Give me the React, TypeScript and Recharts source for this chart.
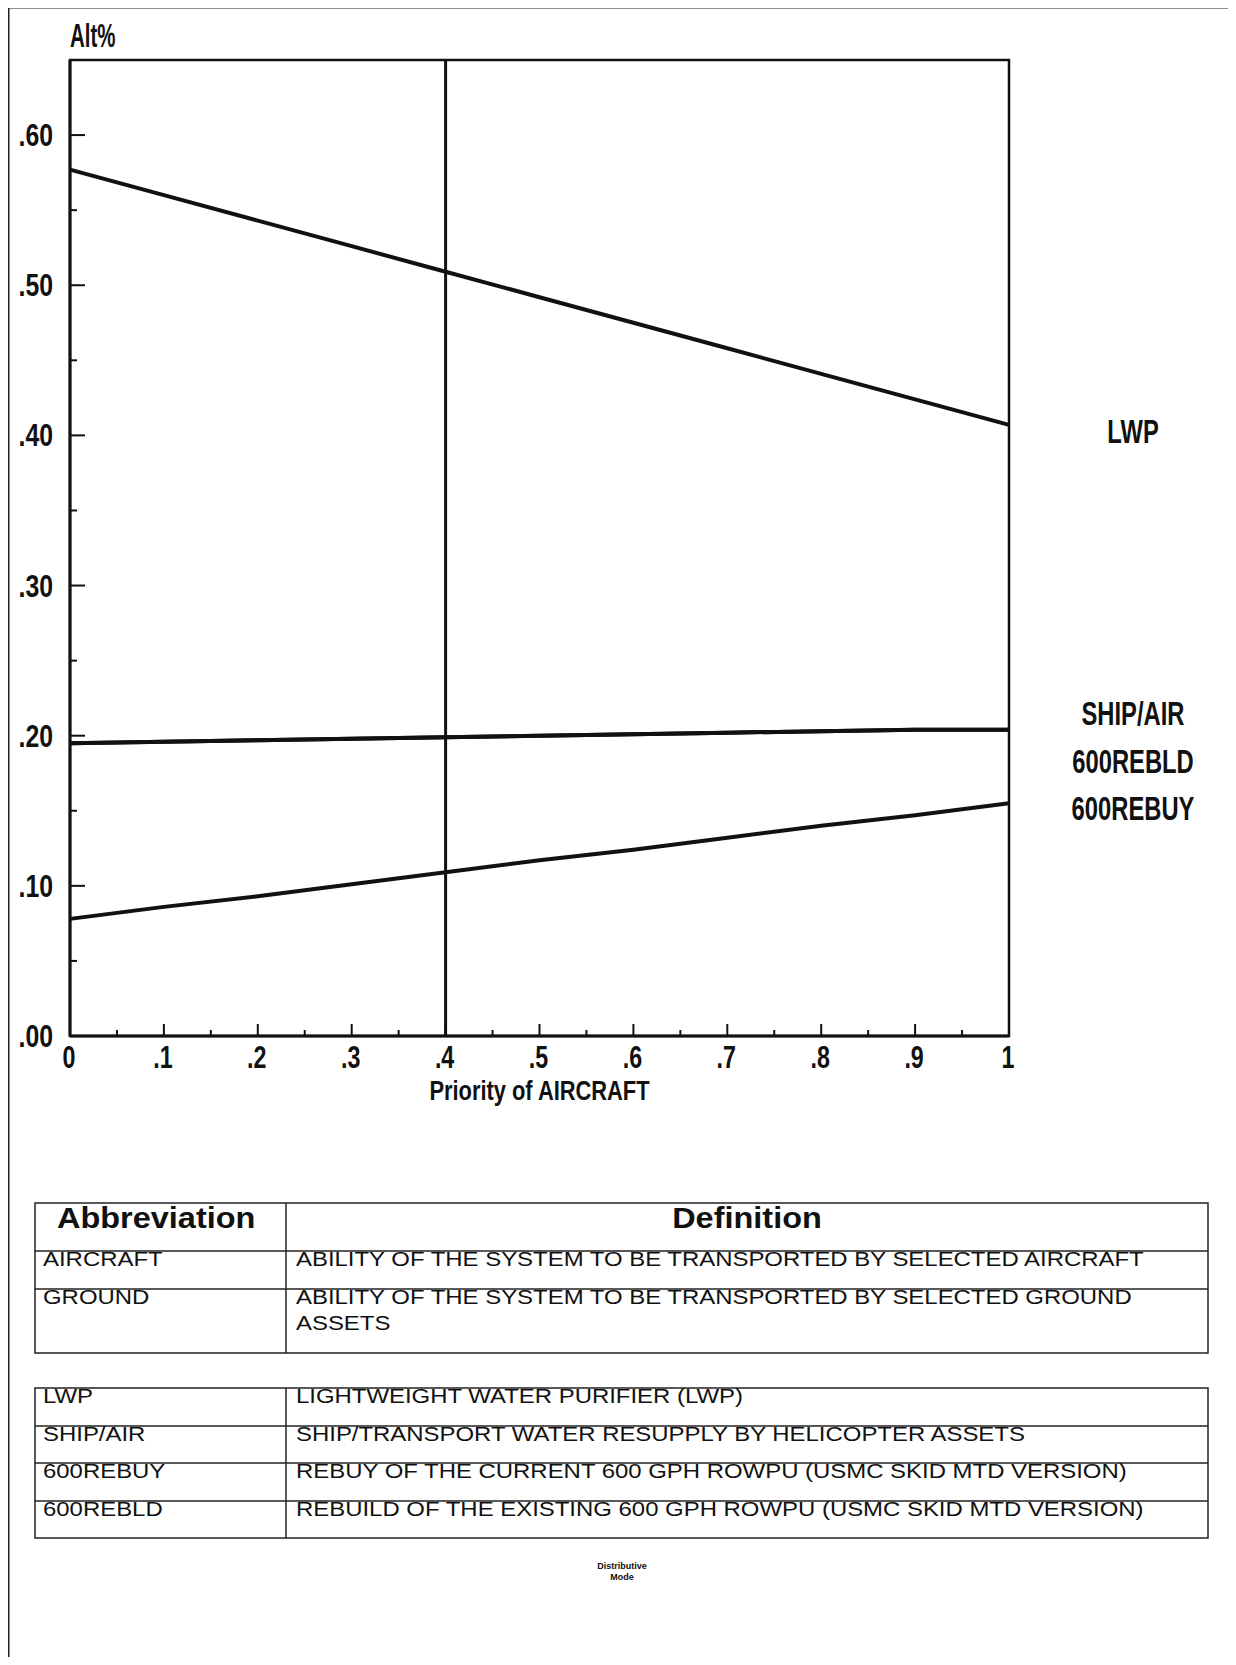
import React from 'react';
import { LineChart, Line, XAxis, YAxis, ReferenceLine, ReferenceArea } from 'recharts';

// ---------- chart data ----------
const xValues = [0, 0.1, 0.2, 0.3, 0.4, 0.5, 0.6, 0.7, 0.8, 0.9, 1];
const lwpValues = [0.577, 0.56, 0.543, 0.526, 0.509, 0.492, 0.475, 0.458, 0.441, 0.424, 0.407];
const shipAirValues = [0.195, 0.196, 0.197, 0.198, 0.199, 0.2, 0.201, 0.202, 0.203, 0.204, 0.204];
const rebldValues = [0.195, 0.196, 0.197, 0.198, 0.199, 0.2, 0.201, 0.202, 0.203, 0.204, 0.204];
const rebuyValues = [0.078, 0.086, 0.093, 0.101, 0.109, 0.117, 0.124, 0.132, 0.14, 0.147, 0.155];

const xMajorTicks = [0, 0.1, 0.2, 0.3, 0.4, 0.5, 0.6, 0.7, 0.8, 0.9, 1];
const xTickLabels = ['0', '.1', '.2', '.3', '.4', '.5', '.6', '.7', '.8', '.9', '1'];
const xMinorTicks = [0.05, 0.15, 0.25, 0.35, 0.45, 0.55, 0.65, 0.75, 0.85, 0.95];
const yMajorTicks = [0, 0.1, 0.2, 0.3, 0.4, 0.5, 0.6];
const yTickLabels = ['.00', '.10', '.20', '.30', '.40', '.50', '.60'];
const yMinorTicks = [0.05, 0.15, 0.25, 0.35, 0.45, 0.55];
const selectedPriority = 0.4;

const seriesNames = ['LWP', 'SHIP/AIR', '600REBLD', '600REBUY'];

// ---------- table data ----------
const table1Abbrev = ['AIRCRAFT', 'GROUND'];
const table1Defs = [
  ['ABILITY OF THE SYSTEM TO BE TRANSPORTED BY SELECTED AIRCRAFT'],
  ['ABILITY OF THE SYSTEM TO BE TRANSPORTED BY SELECTED GROUND', 'ASSETS'],
];
const table2Abbrev = ['LWP', 'SHIP/AIR', '600REBUY', '600REBLD'];
const table2Defs = [
  'LIGHTWEIGHT WATER PURIFIER (LWP)',
  'SHIP/TRANSPORT WATER RESUPPLY BY HELICOPTER ASSETS',
  'REBUY OF THE CURRENT 600 GPH ROWPU (USMC SKID MTD VERSION)',
  'REBUILD OF THE EXISTING 600 GPH ROWPU (USMC SKID MTD VERSION)',
];

const data = xValues.map((x, i) => ({
  x,
  lwp: lwpValues[i],
  shipAir: shipAirValues[i],
  rebld: rebldValues[i],
  rebuy: rebuyValues[i],
}));

const FONT = "'Liberation Sans', Arial, sans-serif";
const INK = '#111';

const near = (a: number, b: number) => Math.abs(a - b) < 1e-6;

function SText(props: any) {
  const { x, y, sx = 1, size, weight = 'normal', anchor = 'start', children, fill = INK } = props;
  return (
    <text
      transform={`translate(${x},${y}) scale(${sx},1)`}
      textAnchor={anchor}
      fontSize={size}
      fontWeight={weight}
      fontFamily={FONT}
      fill={fill}
    >
      {children}
    </text>
  );
}

function XTick(props: any) {
  const { x, y, payload } = props;
  const v = payload.value;
  const mi = xMajorTicks.findIndex((t) => near(t, v));
  const major = mi >= 0;
  return (
    <g>
      <line x1={x} y1={y} x2={x} y2={y - (major ? 12 : 6)} stroke={INK} strokeWidth={2} />
      {major && (
        <SText x={x - 1} y={y + 32} sx={0.75} size={31} weight="bold" anchor="middle">
          {xTickLabels[mi]}
        </SText>
      )}
    </g>
  );
}

function YTick(props: any) {
  const { x, y, payload } = props;
  const v = payload.value;
  const mi = yMajorTicks.findIndex((t) => near(t, v));
  const major = mi >= 0;
  return (
    <g>
      <line x1={x} y1={y} x2={x + (major ? 15 : 7)} y2={y} stroke={INK} strokeWidth={2} />
      {major && (
        <SText x={x - 17} y={y + 11} sx={0.8} size={31} weight="bold" anchor="end">
          {yTickLabels[mi]}
        </SText>
      )}
    </g>
  );
}

function XTitle(props: any) {
  const vb = props.viewBox || { x: 70, y: 1036, width: 939, height: 84 };
  return (
    <SText x={vb.x + vb.width / 2} y={vb.y + 64} sx={0.81} size={27} weight="bold" anchor="middle">
      Priority of AIRCRAFT
    </SText>
  );
}

function YTitle(props: any) {
  const vb = props.viewBox || { x: 0, y: 60, width: 70, height: 976 };
  return (
    <SText x={vb.x + vb.width} y={vb.y - 13} sx={0.62} size={33} weight="bold" anchor="start">
      Alt%
    </SText>
  );
}

const makeEndDot = (name: string, dy: number) => (props: any) => {
  const { cx, cy, index } = props;
  if (index !== xValues.length - 1) return <g key={`d-${name}-${index}`} />;
  return (
    <g key={`d-${name}-${index}`}>
      <SText x={cx + 124} y={cy + dy} sx={0.72} size={33} weight="bold" anchor="middle">
        {name}
      </SText>
    </g>
  );
};

function Chart() {
  const allX = [...xMajorTicks, ...xMinorTicks].sort((a, b) => a - b);
  const allY = [...yMajorTicks, ...yMinorTicks].sort((a, b) => a - b);
  return (
    <LineChart width={1236} height={1120} data={data} margin={{ top: 60, right: 227, bottom: 0, left: 0 }}>
      <XAxis
        type="number"
        dataKey="x"
        domain={[0, 1]}
        ticks={allX}
        interval={0}
        tick={<XTick />}
        tickLine={false}
        tickSize={0}
        tickMargin={0}
        height={84}
        axisLine={{ stroke: INK, strokeWidth: 3 }}
        label={<XTitle />}
      />
      <YAxis
        type="number"
        domain={[0, 0.65]}
        ticks={allY}
        interval={0}
        tick={<YTick />}
        tickLine={false}
        tickSize={0}
        tickMargin={0}
        width={70}
        axisLine={{ stroke: INK, strokeWidth: 3 }}
        label={<YTitle />}
      />
      <ReferenceArea
        x1={0}
        x2={1}
        y1={0}
        y2={0.65}
        fill="none"
        fillOpacity={0}
        stroke={INK}
        strokeWidth={2.5}
        ifOverflow="visible"
      />
      <ReferenceLine x={selectedPriority} stroke={INK} strokeWidth={3} />
      <Line type="linear" dataKey="lwp" name={seriesNames[0]} stroke={INK} strokeWidth={4} dot={makeEndDot(seriesNames[0], 18)} activeDot={false} isAnimationActive={false} />
      <Line type="linear" dataKey="rebld" name={seriesNames[2]} stroke={INK} strokeWidth={4} dot={makeEndDot(seriesNames[2], 43)} activeDot={false} isAnimationActive={false} />
      <Line type="linear" dataKey="shipAir" name={seriesNames[1]} stroke={INK} strokeWidth={4} dot={makeEndDot(seriesNames[1], -5)} activeDot={false} isAnimationActive={false} />
      <Line type="linear" dataKey="rebuy" name={seriesNames[3]} stroke={INK} strokeWidth={4} dot={makeEndDot(seriesNames[3], 17)} activeDot={false} isAnimationActive={false} />
    </LineChart>
  );
}

function Tables() {
  const L = 35, R = 1208, D = 286;
  const t1Top = 1203, t1Head = 1251, t1Row = 1289, t1Bot = 1353;
  const t2Rows = [1388, 1426, 1463, 1501, 1538];
  const lw = 1.5;
  const bodySize = 21, bodySx = 1.14;
  return (
    <svg width={1236} height={1665} style={{ position: 'absolute', left: 0, top: 0 }}>
      {/* page frame */}
      <line x1={8} y1={7} x2={8} y2={1665} stroke="#222" strokeWidth={3} />
      <line x1={7} y1={7} x2={1232} y2={7} stroke="#222" strokeWidth={3} />
      <line x1={1231} y1={7} x2={1231} y2={1665} stroke="#222" strokeWidth={3} />
      {/* table 1 */}
      <rect x={L} y={t1Top} width={R - L} height={t1Bot - t1Top} fill="none" stroke="#222" strokeWidth={lw} />
      <line x1={D} y1={t1Top} x2={D} y2={t1Bot} stroke="#222" strokeWidth={lw} />
      <line x1={L} y1={t1Head} x2={R} y2={t1Head} stroke="#222" strokeWidth={lw} />
      <line x1={L} y1={t1Row} x2={R} y2={t1Row} stroke="#222" strokeWidth={lw} />
      <SText x={57} y={1228} sx={1.12} size={29} weight="bold">Abbreviation</SText>
      <SText x={(D + R) / 2} y={1228} sx={1.12} size={29} weight="bold" anchor="middle">Definition</SText>
      {table1Abbrev.map((a, i) => {
        const top = i === 0 ? t1Head : t1Row;
        return (
          <g key={a}>
            <SText x={43} y={top + 15} sx={bodySx} size={bodySize}>{a}</SText>
            {table1Defs[i].map((line, j) => (
              <SText key={j} x={296} y={top + 15 + j * 26} sx={bodySx} size={bodySize}>{line}</SText>
            ))}
          </g>
        );
      })}
      {/* table 2 */}
      <rect x={L} y={t2Rows[0]} width={R - L} height={t2Rows[4] - t2Rows[0]} fill="none" stroke="#222" strokeWidth={lw} />
      <line x1={D} y1={t2Rows[0]} x2={D} y2={t2Rows[4]} stroke="#222" strokeWidth={lw} />
      {t2Rows.slice(1, 4).map((y) => (
        <line key={y} x1={L} y1={y} x2={R} y2={y} stroke="#222" strokeWidth={lw} />
      ))}
      {table2Abbrev.map((a, i) => (
        <g key={a}>
          <SText x={43} y={t2Rows[i] + 15} sx={bodySx} size={bodySize}>{a}</SText>
          <SText x={296} y={t2Rows[i] + 15} sx={bodySx} size={bodySize}>{table2Defs[i]}</SText>
        </g>
      ))}
      {/* footer note */}
      <SText x={622} y={1569} size={9} weight="bold" anchor="middle">Distributive</SText>
      <SText x={622} y={1580} size={9} weight="bold" anchor="middle">Mode</SText>
    </svg>
  );
}

export default function App() {
  return (
    <div style={{ position: 'relative', width: 1236, height: 1665, margin: -8, background: '#fff', overflow: 'hidden' }}>
      <div style={{ position: 'absolute', left: 0, top: 0 }}>
        <Chart />
      </div>
      <Tables />
    </div>
  );
}
